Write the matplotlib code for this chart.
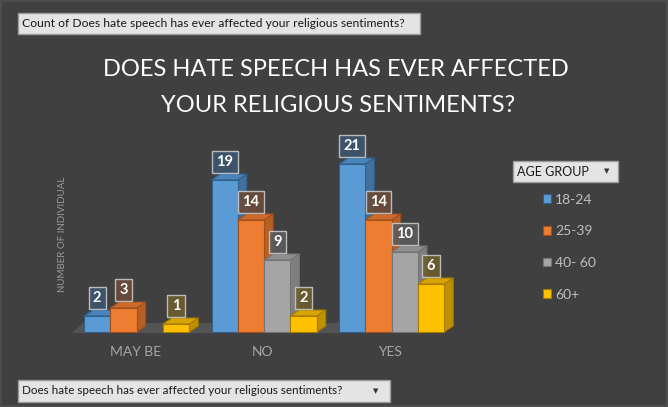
import matplotlib
matplotlib.use("Agg")
import matplotlib.pyplot as plt
from matplotlib.patches import Polygon, Rectangle, Patch
import numpy as np

W, H = 668, 407

answers = ["MAY BE", "NO", "YES"]
age_groups = ["18-24", "25-39", "40- 60", "60+"]
counts_18_24 = [2, 19, 21]
counts_25_39 = [3, 14, 14]
counts_40_60 = [np.nan, 9, 10]
counts_60_plus = [1, 2, 6]
series = [counts_18_24, counts_25_39, counts_40_60, counts_60_plus]

front_colors = ["#5b9bd5", "#ed7d31", "#a5a5a5", "#ffc000"]
side_colors = ["#41719c", "#b85f24", "#7f7f7f", "#bf9000"]
top_colors = ["#4a84bb", "#cf6b2a", "#8f8f8f", "#d9a400"]
edge_colors = ["#2f5f8c", "#a0501c", "#747474", "#a67c00"]
label_fill = ["#3d566f", "#6b4b3a", "#5b5b5b", "#6c5e2e"]

bg = "#404040"
plt.rcParams["font.family"] = ["Lato", "DejaVu Sans"]


def fx(x):
    return x / W


def fy(y):
    return 1 - y / H


fig = plt.figure(figsize=(W / 100, H / 100), dpi=100, facecolor=bg)
fig.patches.append(Rectangle((0, 0), 1, 1, transform=fig.transFigure,
                             facecolor="none", edgecolor="#4d4d4d", lw=3))

# bar area: one x unit = one bar width, baseline sits on the floor
unit = 26.3
ax = fig.add_axes([fx(40), fy(332), 460 / W, 200 / H])
ax.set_xlim(-44 / unit, 416 / unit)
ax.set_ylim(0, 25)
ax.axis("off")

step = 127.5 / unit
dx, dy = 9 / unit, 0.75

# floor plane
n_last = (len(answers) - 1) * step + 4
floor = Polygon([(-0.46, -0.13), (n_last + 0.0, -0.13),
                 (n_last + 0.42, 1.12), (-0.04, 1.12)],
                closed=True, facecolor="#545454", edgecolor="none",
                clip_on=False, zorder=1)
ax.add_patch(floor)

z = 2
for i, ans in enumerate(answers):
    for j, vals in enumerate(series):
        v = vals[i]
        if np.isnan(v):
            continue
        x0 = i * step + j
        x1 = x0 + 1
        side = Polygon([(x1, 0), (x1 + dx, dy), (x1 + dx, v + dy), (x1, v)],
                       facecolor=side_colors[j], edgecolor=edge_colors[j],
                       lw=0.8, clip_on=False, zorder=z)
        top = Polygon([(x0, v), (x1, v), (x1 + dx, v + dy), (x0 + dx, v + dy)],
                      facecolor=top_colors[j], edgecolor=edge_colors[j],
                      lw=0.8, clip_on=False, zorder=z)
        ax.add_patch(side)
        ax.add_patch(top)
        ax.bar(x0, v, width=1, align="edge", color=front_colors[j],
               edgecolor=edge_colors[j], lw=0.8, zorder=z + 0.5,
               clip_on=False)
        ax.annotate(f"{v:g}", xy=(x0 + 0.5, v + dy), xytext=(0, 5),
                    textcoords="offset pixels", ha="center", va="bottom",
                    fontsize=10.5, fontweight="bold", color="white",
                    zorder=20,
                    bbox=dict(boxstyle="square,pad=0.3", facecolor=label_fill[j],
                              edgecolor="#c8c8c8", lw=1, alpha=0.9))
        z += 1
    ax.text(i * step + 1.95, -2.5, ans, ha="center", va="center",
            fontsize=10, color="#a6a6a6")

# titles
fig.text(fx(336), fy(70), "DOES HATE SPEECH HAS EVER AFFECTED",
         ha="center", va="center", fontsize=17, color="white")
fig.text(fx(338), fy(105), "YOUR RELIGIOUS SENTIMENTS?",
         ha="center", va="center", fontsize=17, color="white")

fig.text(fx(63), fy(234), "NUMBER OF INDIVIDUAL", rotation=90,
         ha="center", va="center", fontsize=7, color="#9a9a9a")


# pivot field buttons
def field_button(x0, y0, x1, y1, label, size, arrow_x=None):
    fig.patches.append(Rectangle((fx(x0), fy(y1)), (x1 - x0) / W, (y1 - y0) / H,
                                 transform=fig.transFigure, facecolor="#e4e4e4",
                                 edgecolor="#9c9c9c", lw=1))
    fig.text(fx(x0 + 4), fy((y0 + y1) / 2), label, ha="left", va="center",
             fontsize=size, color="#1a1a1a")
    if arrow_x is not None:
        fig.text(fx(arrow_x), fy((y0 + y1) / 2), "\u25bc", ha="center",
                 va="center", fontsize=5, color="#333333",
                 family="DejaVu Sans")


field_button(18, 13, 420, 34,
             "Count of Does hate speech has ever affected your religious sentiments?",
             8.7)
field_button(18, 380, 390, 402,
             "Does hate speech has ever affected your religious sentiments?",
             8.4, arrow_x=376)
field_button(513, 161, 618, 182, "AGE GROUP", 9, arrow_x=607)

handles = [Patch(facecolor=front_colors[k], edgecolor=edge_colors[k], lw=0.8)
           for k in range(len(age_groups))]
leg = fig.legend(handles, age_groups, loc="upper left",
                 bbox_to_anchor=(fx(530), fy(181)), frameon=False,
                 fontsize=10, labelcolor="#bfbfbf", handlelength=0.6,
                 handleheight=0.6, handletextpad=0.3, labelspacing=1.42)

fig.savefig("out.png", dpi=100, facecolor=bg)
